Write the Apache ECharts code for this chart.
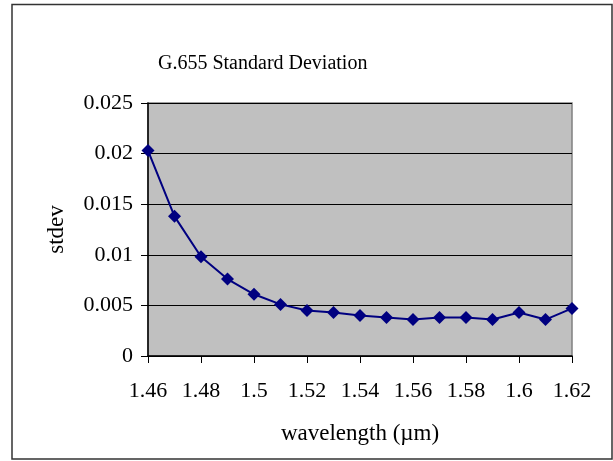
<!DOCTYPE html>
<html>
<head>
<meta charset="utf-8">
<script src="https://cdn.jsdelivr.net/npm/echarts@6/dist/echarts.min.js"></script>
<style>
html,body{margin:0;padding:0;background:#fff;}
#c{width:613px;height:461px;}
</style>
</head>
<body>
<div id="c"></div>
<script>
const wavelengths = [1.46,1.47,1.48,1.49,1.50,1.51,1.52,1.53,1.54,1.55,1.56,1.57,1.58,1.59,1.60,1.61,1.62];
const stdevValues = [0.0203,0.0138,0.0098,0.0076,0.0061,0.0051,0.0045,0.0043,0.0040,0.0038,0.0036,0.0038,0.0038,0.0036,0.0043,0.0036,0.0047];
const titleText = 'G.655 Standard Deviation';
const xName = 'wavelength (\u00b5m)';
const yName = 'stdev';

const font = '"Liberation Serif", "Times New Roman", serif';
const fmt = v => String(parseFloat(Number(v).toFixed(3)));

const chart = echarts.init(document.getElementById('c'), null, {renderer:'canvas'});
chart.setOption({
  backgroundColor:'#ffffff',
  animation:false,
  title:{
    text:titleText,
    left:158, top:54, padding:0,
    textStyle:{fontFamily:font,fontSize:20,fontWeight:'normal',color:'#000'}
  },
  graphic:[{
    type:'rect', z:-1, silent:true,
    shape:{x:12,y:4.5,width:600,height:454.5},
    style:{fill:'none',stroke:'#333',lineWidth:1.5}
  }],
  grid:{
    left:148, right:41, top:103, bottom:105,
    show:true, backgroundColor:'#C0C0C0', borderColor:'#808080', borderWidth:1.5
  },
  xAxis:{
    type:'value', min:1.46, max:1.62, interval:0.02,
    name:xName, nameLocation:'middle', nameGap:66,
    nameTextStyle:{fontFamily:font,fontSize:23,color:'#000'},
    axisLine:{show:true,onZero:false,lineStyle:{color:'#000',width:1.5}},
    axisTick:{show:true,inside:false,length:7,lineStyle:{color:'#000'}},
    axisLabel:{fontFamily:font,fontSize:22,color:'#000',margin:24,formatter:fmt},
    splitLine:{show:false}
  },
  yAxis:{
    type:'value', min:0, max:0.025, interval:0.005,
    name:yName, nameLocation:'middle', nameGap:80, nameRotate:90,
    nameTextStyle:{fontFamily:font,fontSize:23,color:'#000'},
    axisLine:{show:true,lineStyle:{color:'#000',width:1.5}},
    axisTick:{show:true,inside:false,length:7,lineStyle:{color:'#000'}},
    axisLabel:{fontFamily:font,fontSize:22,color:'#000',margin:15,formatter:fmt},
    splitLine:{show:true,lineStyle:{color:'#000',width:1}}
  },
  series:[{
    type:'line',
    data:wavelengths.map((x,i)=>[x,stdevValues[i]]),
    symbol:'diamond', symbolSize:13,
    lineStyle:{color:'#000080',width:2},
    itemStyle:{color:'#000080'},
    clip:false
  }]
});
</script>
</body>
</html>
